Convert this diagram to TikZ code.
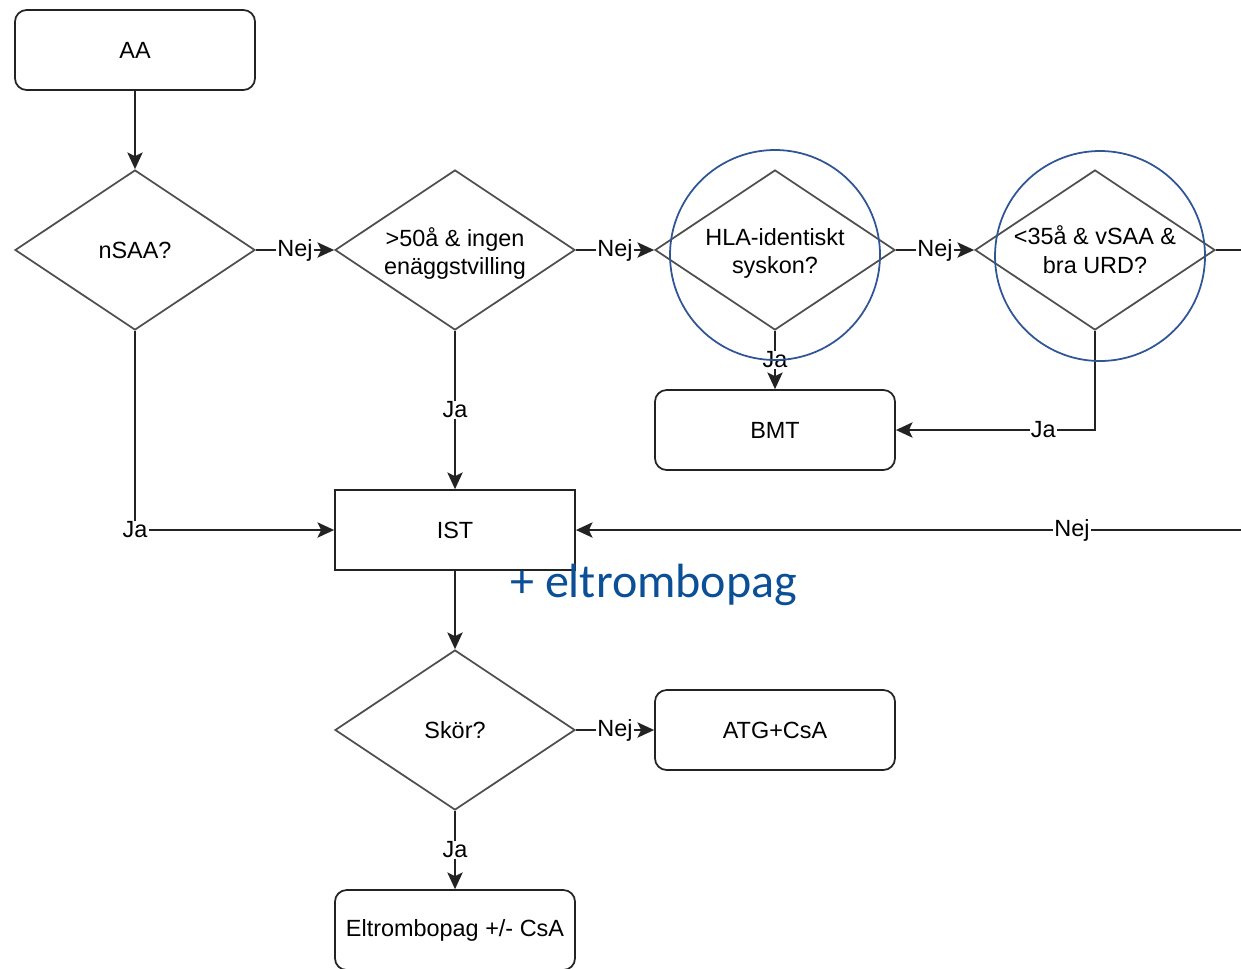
\documentclass[tikz,border=0pt]{standalone}
\usepackage{fontspec}
\setmainfont{Liberation Sans}
\newfontfamily\calfont{Carlito}
\usepackage{tikz}
\usetikzlibrary{arrows.meta}
\usetikzlibrary{shapes.geometric}
\definecolor{linegray}{RGB}{35,35,35}
\definecolor{ringblue}{RGB}{47,85,151}
\definecolor{noteblue}{RGB}{11,79,150}

\begin{document}
\begin{tikzpicture}[
	x=0.03cm, y=-0.03cm,
  > = {Stealth[length=5mm,width=4.6mm,inset=1.1mm]},
  every node/.style = {font=\fontsize{20}{24.5}\selectfont},
  box/.style = {draw=linegray, line width=1.5pt, rounded corners=3.5mm, minimum width=7.2cm, minimum height=2.4cm, inner sep=0pt},
  sqbox/.style = {draw=linegray, line width=1.5pt, minimum width=7.2cm, minimum height=2.4cm, inner sep=0pt},
  decision/.style = {diamond, draw=linegray!80, line width=1.5pt, minimum width=7.2cm, minimum height=4.8cm, inner sep=0pt},
  lbl/.style = {fill=white, inner sep=1pt},
  ring/.style = {draw=ringblue, line width=1.5pt},
  flow/.style = {draw=linegray, line width=1.5pt, ->}
  ]
	\useasboundingbox (0,0) rectangle (1241,968);

	% boxes
	\node[box] (aa) at (135,50) {AA};
	\node[box] (bmt) at (775,430) {BMT};
	\node[sqbox] (ist) at (455,530) {IST};
	\node[box] (atg) at (775,730) {ATG+CsA};
	\node[box] (elt) at (455,930) {Eltrombopag +/- CsA};

	% decisions
	\node[decision, label={[align=center]center:nSAA?}] (nsaa) at (135,250) {};
	\node[decision, label={[align=center, yshift=-0.1cm]center:>50å \& ingen\\enäggstvilling}] (age) at (455,250) {};
	\node[decision, label={[align=center, yshift=-0.1cm]center:HLA-identiskt\\syskon?}] (hla) at (775,250) {};
	\node[decision, label={[align=center]center:<35å \& vSAA \&\\bra URD?}] (urd) at (1095,250) {};
	\node[decision, label={[align=center]center:Skör?}] (skor) at (455,730) {};

	\coordinate (offright) at (1265,250);

	% connectors
	\draw[flow] (aa) -- (nsaa);
	\draw[flow] (nsaa.east) -- node[lbl] {Nej} (age.west);
	\draw[flow] (age.east) -- node[lbl] {Nej} (hla.west);
	\draw[flow] (hla.east) -- node[lbl] {Nej} (urd.west);
	\draw[flow] (urd.east) -- (offright) |- node[lbl, pos=0.64] {Nej} (ist.east);
	\draw[flow] (nsaa.south) |- node[lbl, pos=0.5] {Ja} (ist.west);
	\draw[flow] (age.south) -- node[lbl] {Ja} (ist.north);
	\draw[flow] (hla.south) -- node[lbl] {Ja} (bmt.north);
	\draw[flow] (urd.south) |- node[lbl, pos=0.63] {Ja} (bmt.east);
	\draw[flow] (ist) -- (skor);
	\draw[flow] (skor.east) -- node[lbl] {Nej} (atg.west);
	\draw[flow] (skor.south) -- node[lbl] {Ja} (elt.north);

	% highlights
	\draw[ring] (775,255) circle (105);
	\draw[ring] (1100,256) circle (105);
	\node[anchor=base west, inner sep=0pt, text=noteblue, font=\calfont\fontsize{41}{48}\selectfont] (note) at (510,597) {+ eltrombopag};

\end{tikzpicture}
\end{document}
